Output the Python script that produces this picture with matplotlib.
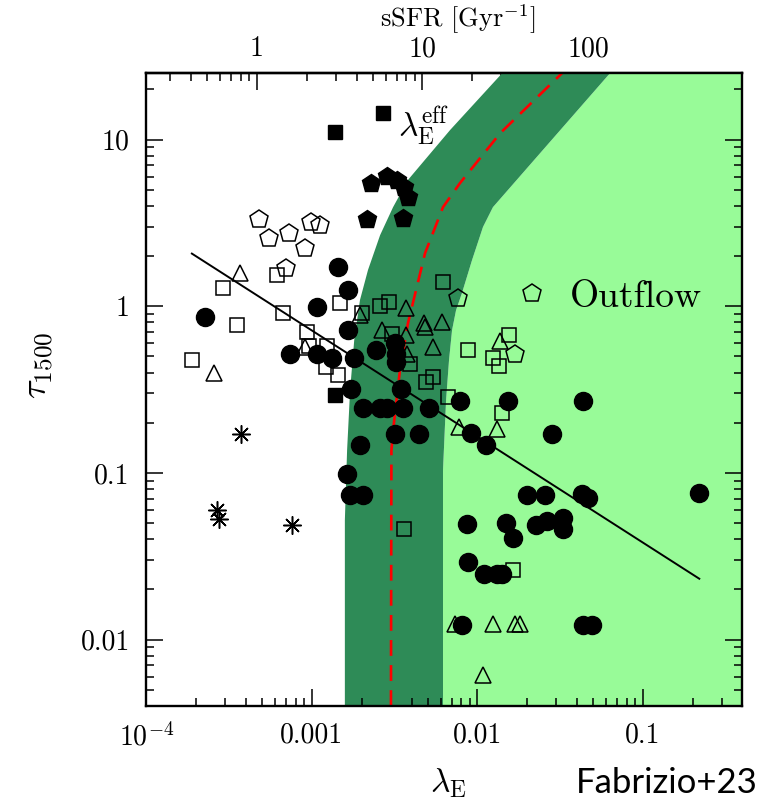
import numpy as np
import matplotlib.pyplot as plt
from matplotlib.ticker import FixedLocator, NullFormatter, LogLocator

plt.rcParams['font.family'] = 'cmr10'
plt.rcParams['mathtext.fontset'] = 'cm'
plt.rcParams['axes.unicode_minus'] = False

# --- values: lambda_E and tau_1500 ---
circ_lam = [2.25e-4, 1.44e-3, 1.65e-3, 1.07e-3, 1.65e-3, 7.36e-4, 1.07e-3, 1.32e-3, 1.79e-3,
            2.44e-3, 3.17e-3, 3.2e-3, 3.2e-3, 1.72e-3, 3.45e-3, 2.03e-3, 2.58e-3, 2.84e-3,
            3.55e-3, 5.09e-3, 3.17e-3, 4.43e-3, 1.95e-3, 1.63e-3, 1.70e-3, 2.03e-3, 7.83e-3,
            1.53e-2, 4.34e-2, 9.2e-3, 1.12e-2, 2.82e-2, 1.99e-2, 2.56e-2, 4.28e-2, 4.65e-2,
            0.218, 8.63e-3, 1.49e-2, 1.64e-2, 2.25e-2, 2.63e-2, 3.28e-2, 3.3e-2, 8.77e-3,
            1.09e-2, 1.31e-2, 1.41e-2, 8.05e-3, 4.34e-2, 4.92e-2]
circ_tau = [0.86, 1.72, 1.25, 0.99, 0.72, 0.515, 0.515, 0.488, 0.488,
            0.545, 0.60, 0.52, 0.46, 0.318, 0.318, 0.244, 0.244, 0.244,
            0.244, 0.244, 0.171, 0.171, 0.147, 0.098, 0.0733, 0.0733, 0.269,
            0.269, 0.269, 0.173, 0.147, 0.171, 0.0733, 0.0733, 0.0743, 0.0703,
            0.0753, 0.0491, 0.0498, 0.041, 0.049, 0.0512, 0.054, 0.0458, 0.0294,
            0.0246, 0.0246, 0.0246, 0.0123, 0.0123, 0.0123]

sq_lam = [1.88e-4, 2.9e-4, 3.52e-4, 6.14e-4, 6.68e-4, 1.48e-3, 9.33e-4, 9.6e-4, 1.23e-3,
          1.22e-3, 1.44e-3, 2.0e-3, 2.58e-3, 2.92e-3, 3.04e-3, 6.18e-3, 3.91e-3, 4.89e-3,
          5.38e-3, 6.64e-3, 8.77e-3, 1.24e-2, 1.35e-2, 1.55e-2, 1.41e-2, 3.6e-3, 1.64e-2]
sq_tau = [0.474, 1.28, 0.77, 1.54, 0.91, 1.04, 0.70, 0.58, 0.58,
          0.43, 0.385, 0.91, 1.01, 1.06, 0.68, 1.40, 0.45, 0.35,
          0.375, 0.284, 0.545, 0.488, 0.437, 0.67, 0.228, 0.0458, 0.026]

tri_lam = [2.56e-4, 3.67e-4, 9.08e-4, 1.95e-3, 2.65e-3, 3.70e-3, 3.72e-3, 4.75e-3, 4.8e-3,
           6.09e-3, 5.38e-3, 3.77e-3, 1.37e-2, 7.73e-3, 1.31e-2, 7.31e-3, 1.24e-2, 1.69e-2,
           1.81e-2, 1.08e-2]
tri_tau = [0.396, 1.58, 0.57, 0.885, 0.72, 0.97, 0.67, 0.79, 0.75,
           0.80, 0.57, 0.52, 0.62, 0.188, 0.183, 0.0125, 0.0125, 0.0125,
           0.0125, 0.0061]

pent_lam = [4.79e-4, 5.5e-4, 7.26e-4, 9.08e-4, 9.86e-4, 1.12e-3, 6.97e-4, 7.62e-3, 2.13e-2, 1.69e-2]
pent_tau = [3.33, 2.56, 2.75, 2.23, 3.2, 3.07, 1.69, 1.12, 1.20, 0.515]

pentf_lam = [2.27e-3, 2.84e-3, 3.26e-3, 3.6e-3, 3.8e-3, 2.15e-3, 3.55e-3]
pentf_tau = [5.48, 6.04, 5.71, 5.19, 4.52, 3.33, 3.38]

sqf_lam = [2.69e-3, 1.38e-3, 1.38e-3]
sqf_tau = [14.4, 11.1, 0.292]

ast_lam = [3.72e-4, 2.67e-4, 2.74e-4, 7.57e-4]
ast_tau = [0.171, 0.060, 0.0533, 0.0484]

fit_lam = [1.88e-4, 0.219]
fit_tau = [2.07, 0.0232]

# band edges and lambda_E^eff curve
left_lam = [1.58e-3, 1.58e-3, 1.63e-3, 1.70e-3, 1.80e-3, 1.95e-3, 2.18e-3, 2.58e-3, 3.09e-3,
            3.80e-3, 6.83e-3, 1.41e-2]
left_tau = [0.004, 0.052, 0.137, 0.314, 0.627, 1.09, 1.65, 2.67, 3.93, 5.72, 11.4, 25]
right_lam = [6.19e-3, 6.19e-3, 6.46e-3, 6.73e-3, 7.02e-3, 7.42e-3, 8.06e-3, 9.27e-3, 1.08e-2,
             1.24e-2, 6.32e-2]
right_tau = [0.004, 0.104, 0.273, 0.474, 0.718, 0.946, 1.20, 1.89, 2.99, 3.93, 25]
red_lam = [3.0e-3, 3.02e-3, 3.13e-3, 3.40e-3, 3.80e-3, 4.82e-3, 6.19e-3, 7.84e-3, 1.37e-2, 3.24e-2]
red_tau = [0.004, 0.137, 0.201, 0.413, 0.79, 2.08, 3.93, 5.48, 10.9, 25]

ssfr_per_lam = 2150.0

fig = plt.figure(figsize=(7.67, 8.01), dpi=100)
ax = fig.add_axes([0.191, 0.1186, 0.776, 0.790])
ax.set_xscale('log')
ax.set_yscale('log')
ax.set_xlim(1e-4, 0.395)
ax.set_ylim(0.004, 25)

# shaded regions
ax.fill(right_lam + [1.0, 1.0], right_tau + [25, 0.004], color='#98fb98', lw=0, zorder=1)
ax.fill(left_lam + right_lam[::-1], left_tau + right_tau[::-1], color='#2e8b57', lw=0, zorder=1)

ax.plot(red_lam, red_tau, color='red', lw=1.9, dashes=(6, 3.5), zorder=2)
ax.plot(fit_lam, fit_tau, color='k', lw=1.4, zorder=3)

ax.plot(sq_lam, sq_tau, 's', ms=9.5, mfc='none', mec='k', mew=1.1, zorder=4)
ax.plot(tri_lam, tri_tau, '^', ms=11, mfc='none', mec='k', mew=1.1, zorder=4)
ax.plot(pent_lam, pent_tau, 'p', ms=13.5, mfc='none', mec='k', mew=1.1, zorder=4)
ax.plot(pentf_lam, pentf_tau, 'p', ms=13.5, color='k', zorder=5)
ax.plot(sqf_lam, sqf_tau, 's', ms=9.5, color='k', zorder=5)
ax.plot(ast_lam, ast_tau, ls='none', marker=(8, 2, 0), ms=13, mew=1.1, color='k', zorder=5)
ax.plot(circ_lam, circ_tau, 'o', ms=13, color='k', zorder=5)

# ticks
ax.xaxis.set_major_locator(FixedLocator([1e-4, 1e-3, 1e-2, 1e-1]))
ax.set_xticklabels([r'$10^{-4}$', '0.001', '0.01', '0.1'])
ax.xaxis.set_minor_locator(LogLocator(subs=np.arange(2, 10)))
ax.xaxis.set_minor_formatter(NullFormatter())
ax.yaxis.set_major_locator(FixedLocator([0.01, 0.1, 1, 10]))
ax.set_yticklabels(['0.01', '0.1', '1', '10'])
ax.yaxis.set_minor_locator(LogLocator(subs=np.arange(2, 10)))
ax.yaxis.set_minor_formatter(NullFormatter())
ax.tick_params(which='both', direction='in', top=False, right=True, width=1.1,
               labelsize=20, pad=12)
ax.tick_params(which='major', length=12)
ax.tick_params(which='minor', length=6)
for s in ax.spines.values():
    s.set_linewidth(1.7)

sec = ax.secondary_xaxis('top', functions=(lambda x: x * ssfr_per_lam,
                                           lambda s: s / ssfr_per_lam))
sec.set_xticks([1, 10, 100], ['1', '10', '100'])
sec.xaxis.set_minor_locator(LogLocator(subs=np.arange(2, 10)))
sec.xaxis.set_minor_formatter(NullFormatter())
sec.tick_params(which='both', direction='in', width=1.1, labelsize=20, pad=8)
sec.tick_params(which='major', length=12)
sec.tick_params(which='minor', length=6)
sec.spines['top'].set_linewidth(1.7)

fig.text(458 / 767, 1 - 19 / 801, r'sSFR [Gyr$^{-1}$]', fontsize=19, ha='center', va='center')

ax.text(3.3e-3, 12, r'$\lambda_{\rm E}^{\rm eff}$', fontsize=24, ha='left', va='center', zorder=6)
ax.text(0.0362, 0.99, 'Outflow', fontsize=27, ha='left', va='baseline', zorder=6)

fig.text(448 / 767, 1 - 783 / 801, r'$\lambda_{\rm E}$', fontsize=24, ha='center', va='center')
fig.text(40 / 767, 1 - 365 / 801, r'$\tau_{1500}$', fontsize=26, rotation=90,
         ha='center', va='center')
fig.text(0.988, 0.01, 'Fabrizio+23', family=['Lato', 'DejaVu Sans'], fontsize=25,
         ha='right', va='baseline')

fig.savefig('out.png', dpi=100)
